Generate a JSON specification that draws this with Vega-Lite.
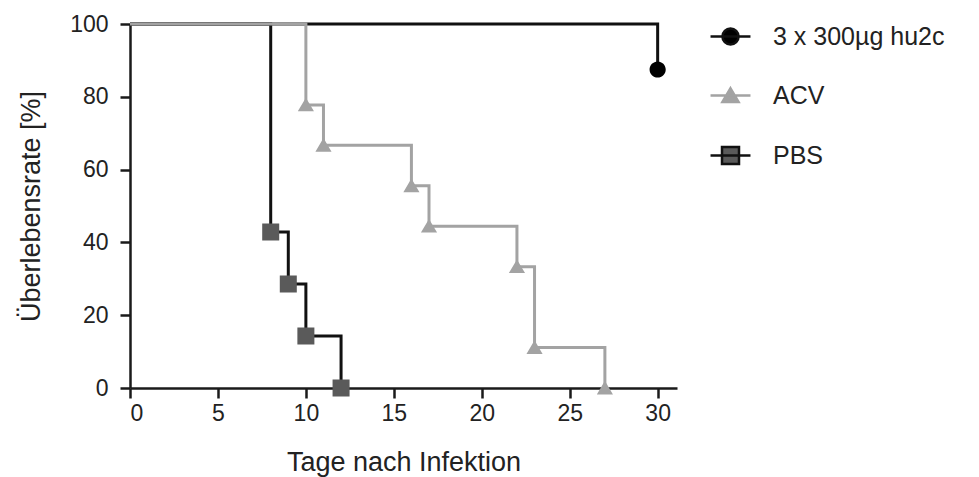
{
  "$schema": "https://vega.github.io/schema/vega-lite/v6.json",
  "autosize": {"type": "none"},
  "padding": {"left": 130, "top": 24, "right": 302, "bottom": 89},
  "width": 547,
  "height": 364,
  "background": "white",
  "config": {
    "view": {"stroke": null},
    "font": "Liberation Sans",
    "axis": {
      "grid": false,
      "domainColor": "#1a1a1a",
      "domainWidth": 2.5,
      "tickColor": "#1a1a1a",
      "tickWidth": 2.5,
      "tickSize": 10,
      "labelFont": "Liberation Sans",
      "labelFontSize": 23,
      "labelColor": "#222222",
      "titleFont": "Liberation Sans",
      "titleFontSize": 27,
      "titleFontWeight": "normal",
      "titleColor": "#222222"
    },
    "legend": {
      "orient": "right",
      "offset": 41,
      "symbolSize": 289,
      "symbolStrokeWidth": 2.5,
      "labelFont": "Liberation Sans",
      "labelFontSize": 25,
      "labelColor": "#222222",
      "labelOffset": 30,
      "rowPadding": 33,
      "labelLimit": 400
    }
  },
  "data": {
    "values": [
      {"series": "3 x 300µg hu2c", "day": 0, "pct": 100, "marker": false},
      {"series": "3 x 300µg hu2c", "day": 30, "pct": 87.5, "marker": true},
      {"series": "PBS", "day": 0, "pct": 100, "marker": false},
      {"series": "PBS", "day": 8, "pct": 42.86, "marker": true},
      {"series": "PBS", "day": 9, "pct": 28.57, "marker": true},
      {"series": "PBS", "day": 10, "pct": 14.29, "marker": true},
      {"series": "PBS", "day": 12, "pct": 0, "marker": true},
      {"series": "ACV", "day": 0, "pct": 100, "marker": false},
      {"series": "ACV", "day": 10, "pct": 77.78, "marker": true},
      {"series": "ACV", "day": 11, "pct": 66.67, "marker": true},
      {"series": "ACV", "day": 16, "pct": 55.56, "marker": true},
      {"series": "ACV", "day": 17, "pct": 44.44, "marker": true},
      {"series": "ACV", "day": 22, "pct": 33.33, "marker": true},
      {"series": "ACV", "day": 23, "pct": 11.11, "marker": true},
      {"series": "ACV", "day": 27, "pct": 0, "marker": true}
    ]
  },
  "encoding": {
    "x": {
      "field": "day",
      "type": "quantitative",
      "scale": {"domain": [0, 31.1], "nice": false, "zero": false},
      "axis": {"values": [0, 5, 10, 15, 20, 25, 30], "labelPadding": 4, "titlePadding": 24, "title": "Tage nach Infektion"}
    },
    "y": {
      "field": "pct",
      "type": "quantitative",
      "scale": {"domain": [0, 100], "nice": false},
      "axis": {"values": [0, 20, 40, 60, 80, 100], "labelPadding": 12, "titlePadding": 24, "title": "Überlebensrate [%]"}
    }
  },
  "layer": [
    {
      "transform": [{"filter": "datum.series !== 'ACV'"}],
      "mark": {"type": "line", "interpolate": "step-after", "strokeWidth": 3},
      "encoding": {
        "stroke": {
          "field": "series",
          "type": "nominal",
          "scale": {"domain": ["3 x 300µg hu2c", "ACV", "PBS"], "range": ["#111111", "#a3a3a3", "#111111"]},
          "title": null
        }
      }
    },
    {
      "transform": [{"filter": "datum.series === 'ACV'"}],
      "mark": {"type": "line", "interpolate": "step-after", "strokeWidth": 3},
      "encoding": {
        "stroke": {
          "field": "series",
          "type": "nominal",
          "title": null
        }
      }
    },
    {
      "transform": [{"filter": "datum.marker"}],
      "mark": {"type": "point", "filled": true, "opacity": 1, "size": 289},
      "encoding": {
        "fill": {
          "field": "series",
          "type": "nominal",
          "scale": {"domain": ["3 x 300µg hu2c", "ACV", "PBS"], "range": ["#000000", "#a3a3a3", "#5a5a5a"]},
          "title": null
        },
        "shape": {
          "field": "series",
          "type": "nominal",
          "scale": {
            "domain": ["3 x 300µg hu2c", "ACV", "PBS"],
            "range": [
              "M-2.35,0H2.35M-0.95,0A0.95,0.95,0,1,0,0.95,0A0.95,0.95,0,1,0,-0.95,0Z",
              "M-2.35,0H2.35M0,-0.85L0.95,0.75L-0.95,0.75Z",
              "M-2.35,0H2.35M-1,-1H1V1H-1Z"
            ]
          },
          "title": null
        }
      }
    }
  ]
}
